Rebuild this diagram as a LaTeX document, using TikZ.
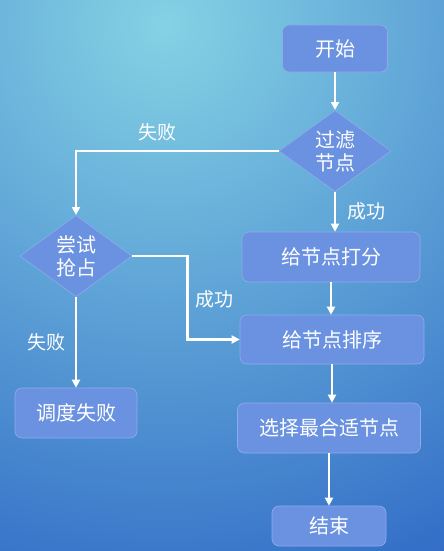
\documentclass[tikz,border=0pt]{standalone}
\usepackage{fontspec}
\newfontfamily\cjkfont{Noto Sans CJK SC}
\usepackage{tikz}
\usetikzlibrary{arrows.meta,positioning,shapes.geometric}
\definecolor{skylight}{HTML}{84D2E4}
\definecolor{skydeep}{HTML}{2A62C4}
\definecolor{boxblue}{HTML}{6A92E0}
\definecolor{boxline}{HTML}{8EACEC}

\begin{document}
\begin{tikzpicture}[x=1pt,y=-1pt,>={Triangle[length=8pt,width=8pt]},
  box/.style={draw=boxline,fill=boxblue,rounded corners=7pt,line width=0.6pt,text=white,align=center,font=\cjkfont\fontsize{20}{23}\selectfont},
  choice/.style={box,diamond,rounded corners=0pt,inner sep=0pt,minimum width=112pt,minimum height=62pt},
  tag/.style={text=white,font=\cjkfont\fontsize{19}{22}\selectfont},
  flow/.style={draw=white,line width=2.4pt,->}]
\useasboundingbox (0,0) rectangle (444,551);
\begin{scope}
\clip (0,0) rectangle (444,551);
\shade[inner color=skylight,outer color=skydeep] (165,25) circle (660pt);
\end{scope}
\node[box,minimum width=105pt,minimum height=47pt] (start) at (335,48.5) {开始};
\node[choice] (filter) at (335,151) {过滤\\节点};
\node[choice] (try) at (76,256) {尝试\\抢占};
\node[box,minimum width=178pt,minimum height=50pt] (score) at (331,257) {给节点打分};
\node[box,minimum width=184pt,minimum height=49pt] (sort) at (332,339.5) {给节点排序};
\node[box,minimum width=183pt,minimum height=50pt] (select) at (329,428) {选择最合适节点};
\node[box,minimum width=114pt,minimum height=40pt] (done) at (329,526) {结束};
\node[box,minimum width=122pt,minimum height=50pt] (failed) at (76,413) {调度失败};
\draw[flow] (start) -- (filter);
\draw[flow] (filter.west) -| (try.north) node[tag,pos=0.3,above=5pt] (lost1) {失败};
\draw[flow] (filter) -- (filter |- score.north) node[tag,midway,right=8pt] (won1) {成功};
\draw[flow] (score.south) -- (score.south |- sort.north);
\draw[flow] (try.east) -- ++(55,0) |- (sort.west) node[tag,pos=0.26,right=4pt] (won2) {成功};
\draw[flow] (try) -- (failed) node[tag,midway,left=6pt] (lost2) {失败};
\draw[flow] (sort.south) -- (sort.south |- select.north);
\draw[flow] (select) -- (done);
\end{tikzpicture}
\end{document}
